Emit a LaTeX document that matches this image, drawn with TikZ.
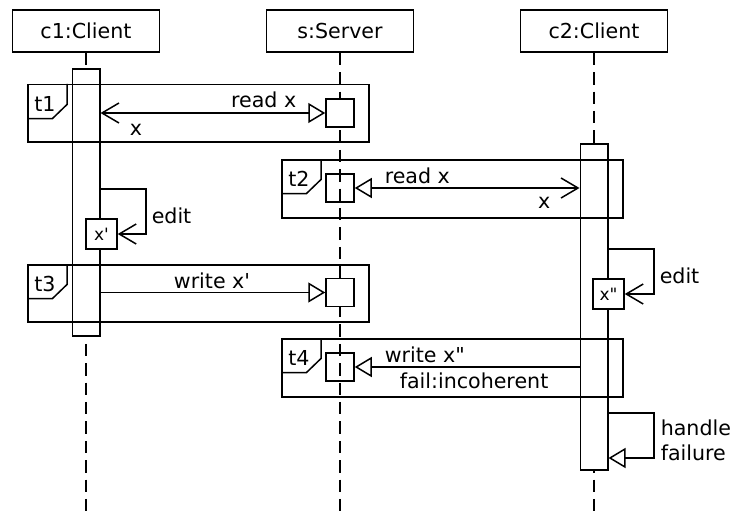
\documentclass[tikz,border=0pt]{standalone}
\usepackage{fontspec}
\setmainfont{DejaVu Sans}[Ligatures=TeXOff]
\usetikzlibrary{arrows.meta}
\tikzset{
  umlbarb/.tip={Straight Barb[length=17pt,width=20pt]},
  umltri/.tip={Triangle[open,length=17pt,width=20pt]},
}
\begin{document}
\begin{tikzpicture}[x=1pt,y=-1pt,
  line width=1.5pt, line join=miter,
  every node/.style={font=\fontsize{20.6}{24}\selectfont, inner sep=0pt},
  head/.style={draw, minimum width=147pt, minimum height=42pt},
  lifeline/.style={dash pattern=on 12.5pt off 6.9pt},
  actbar/.style={draw, fill=white, minimum width=27.5pt},
  srvbox/.style={draw, minimum width=28pt, minimum height=28pt},
  valbox/.style={draw, fill=white, minimum width=31pt, minimum height=30pt,
    font=\fontsize{17}{20}\selectfont},
  fragment/.style={draw, anchor=north west, minimum width=341pt},
  lbl/.style={anchor=base west},
]
\useasboundingbox (0,0) rectangle (735,516);

% participants and lifelines
\node[head] (c1) at (86,31) {c1:Client};
\node[head] (s)  at (340,31) {s:Server};
\node[head] (c2) at (594,31) {c2:Client};
\coordinate (bottom) at (0,516);
\draw[lifeline] (c1.south) -- (c1.south |- bottom);
\draw[lifeline] (s.south)  -- (s.south |- bottom);
\draw[lifeline] (c2.south) -- (c2.south |- bottom);

% activation bars
\node[actbar, minimum height=267pt] (c1bar) at (86,202.5) {};
\node[actbar, minimum height=326pt] (c2bar) at (594,307) {};

% server activations
\node[srvbox, fill=white] (s1) at (340,113) {};
\node[srvbox] (s2) at (340,188) {};
\node[srvbox, fill=white] (s3) at (340,292.5) {};
\node[srvbox] (s4) at (340,367) {};

% transaction fragments
\node[fragment, minimum height=57pt] (t1) at (27,84) {};
\node[fragment, minimum height=58pt] (t2) at (281,159) {};
\node[fragment, minimum height=57pt] (t3) at (27,264) {};
\node[fragment, minimum height=58pt] (t4) at (281,338) {};
\foreach \t in {t1,t2,t3,t4}{
  \draw (\t.north west) ++(40,0) -- ++(0,20.5) -- ++(-14.5,14) -- ++(-25.5,0);
  \node[lbl] (\t lbl) at ([shift={(6.5,27)}]\t.north west) {\t};
}

% t1: read x
\draw[umlbarb-umltri] (c1bar.east |- s1) -- (s1.west);
\node[anchor=base east] (m1a) at (297,107) {read x};
\node[lbl] (m1b) at (129,135) {x};

% t2: read x
\draw[umltri-umlbarb] (s2.east) -- (c2bar.west |- s2);
\node[lbl] (m2a) at (384,183) {read x};
\node[anchor=base east] (m2b) at (551,208.5) {x};

% c1 local edit
\node[valbox] (xp) at (101.5,234) {x'};
\coordinate (e1) at (146,189);
\draw[-umlbarb] (c1bar.east |- e1) -- (e1) |- (xp.east);
\node[lbl] (ed1) at (151,223) {edit};

% t3: write x'
\draw[-umltri] (c1bar.east |- s3) -- (s3.west);
\node[anchor=base] (m3) at (212,288) {write x'};

% c2 local edit
\node[valbox] (xpp) at (608.5,294) {x"};
\coordinate (e2) at (654,249);
\draw[-umlbarb] (c2bar.east |- e2) -- (e2) |- (xpp.east);
\node[lbl] (ed2) at (659,283) {edit};

% t4: write x"
\draw[-umltri] (c2bar.west |- s4) -- (s4.east);
\node[lbl] (m4a) at (384,362) {write x"};
\node[lbl] (m4b) at (399,388) {fail:incoherent};

% c2 failure handling
\coordinate (e3) at (654,413);
\coordinate (h3) at (654,458);
\draw[-umltri] (c2bar.east |- e3) -- (e3) -- (h3) -- (c2bar.east |- h3);
\node[lbl] (hf1) at (660,435) {handle};
\node[lbl] (hf2) at (660,460) {failure};
\end{tikzpicture}
\end{document}
